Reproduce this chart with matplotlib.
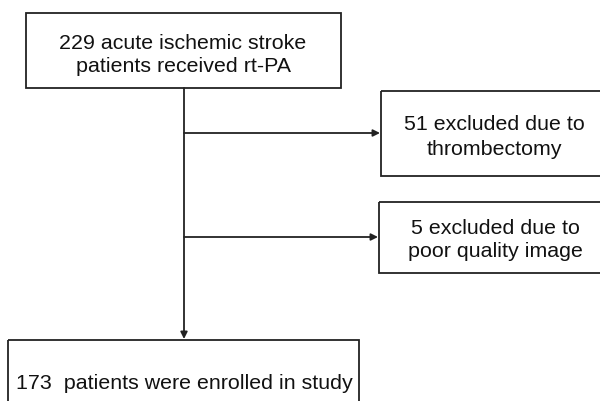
import matplotlib.pyplot as plt
from matplotlib.patches import Rectangle

# === Flowchart content ===
total_n = 229
excluded_n = [51, 5]
enrolled_n = 173
top_text = f"{total_n} acute ischemic stroke\npatients received rt-PA"
exclude_texts = [f"{excluded_n[0]} excluded due to\nthrombectomy",
                 f"{excluded_n[1]} excluded due to\npoor quality image"]
bottom_text = f"{enrolled_n}  patients were enrolled in study"

plt.rcParams.update({
    'font.family': ['Liberation Sans', 'DejaVu Sans'],
    'font.size': 15.4,
})

fig = plt.figure(figsize=(6, 4.02), dpi=100)
ax = fig.add_axes([0, 0, 1, 1])
ax.set_xlim(0, 600)
ax.set_ylim(402, 0)
ax.axis('off')

edge = '#222222'
lw = 1.3

def box(x0, y0, x1, y1, text, tx, ty, ls=1.3):
    ax.add_patch(Rectangle((x0, y0), x1 - x0, y1 - y0, fill=False,
                           edgecolor=edge, linewidth=lw))
    ax.text(tx, ty, text, ha='center', va='center', color='#111111',
            linespacing=ls)

# boxes: (x0, y0, x1, y1)
box(26, 14, 341, 89, top_text, 183, 55, ls=1.25)
box(381, 92, 603, 177, exclude_texts[0], 494, 137, ls=1.35)
box(379, 203, 603, 274, exclude_texts[1], 495, 240, ls=1.25)
box(8, 341, 359, 410, bottom_text, 184, 384)

# main vertical arrow
spine_x = 184
ax.annotate('', xy=(spine_x, 340), xytext=(spine_x, 89),
            arrowprops=dict(arrowstyle='-|>', color=edge, lw=lw,
                            mutation_scale=10, shrinkA=0, shrinkB=0))
# side arrows
for y, x_end in [(134, 380), (238, 378)]:
    ax.annotate('', xy=(x_end, y), xytext=(spine_x, y),
                arrowprops=dict(arrowstyle='-|>', color=edge, lw=lw,
                                mutation_scale=10, shrinkA=0, shrinkB=0))

plt.savefig("out.png", dpi=100, facecolor='white')
